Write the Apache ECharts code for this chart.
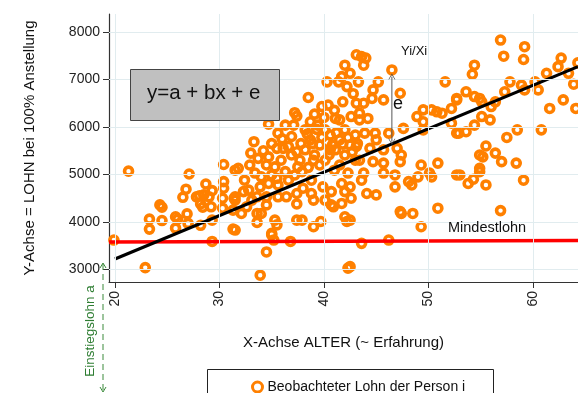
<!DOCTYPE html>
<html>
<head>
<meta charset="utf-8">
<script src="https://cdn.jsdelivr.net/npm/echarts@6/dist/echarts.min.js"></script>
<style>
  html, body { margin: 0; padding: 0; background: #fff; }
  #chart { width: 578px; height: 393px; }
</style>
</head>
<body>
<div id="chart"></div>
<script>
  // Achsen
  var xTicks = [20, 30, 40, 50, 60];
  var yTicks = [3000, 4000, 5000, 6000, 7000, 8000];
  var xRange = [19.43, 64.31];
  var yRange = [2737, 8378];

  // Regressionsgerade y = a + bx und Mindestlohn (Endpunkte)
  var regression = [[20, 3220], [64.31, 7270]];
  var mindestlohn = [[19.43, 3580], [64.31, 3610]];
  // Residuum e fuer einen Punkt Yi/Xi
  var residuum = [[46.5, 7060], [46.5, 5690]];

  // beobachtete Werte [ALTER, LOHN]
  var beobachtungen = [
    [21.3,5070],[19.9,3620],[22.9,3040],[23.3,4060],[23.3,3850],[24.5,4030],[24.3,4360],[24.5,4310],
    [25.8,4110],[25.8,3870],[26,4060],[26.5,4520],[26.8,4690],[27.1,5010],[26.9,4170],[27,3970],
    [28.2,3930],[28.1,4550],[28.2,4380],[28.7,4800],[28.5,4570],[29,4530],[29.2,4320],[29.3,4660],
    [29.3,4040],[29.3,3590],[28.4,4310],[27.8,4530],[30.4,5210],[30.4,4850],[30.4,4710],[30.3,4500],
    [30.3,4290],[31.3,3850],[31.5,5090],[31.4,4500],[31.3,4250],
    [40.3,6950],[38.5,6620],[37.2,6300],[37.4,6230],[39.1,6270],[38.7,6110],[38.2,5940],[39.8,6430],
    [40.4,6460],[42,7300],[41.7,7060],[42.2,6850],[41.4,6950],[41.8,6530],[41.1,6180],[41.5,6150],
    [34.7,6060],[35.6,5870],[36.3,6040],[37.1,6040],[33.3,5690],[35.5,5550],[36.1,5550],[36.6,5590],
    [36.9,5410],[34.7,5370],[33.7,5340],[32.9,5200],[31.8,5130],[34.5,5200],[35.3,5160],[37.5,5160],
    [37.9,5060],[33.4,5030],[34,4950],[35,4990],[35.5,4920],[32.4,4880],[32.8,4670],[33.9,4740],
    [34.7,4810],[35.6,4780],[36.6,4880],[37.2,4990],[38.8,4880],[38.8,4600],[39.9,4740],[40.7,4640],
    [41.7,4810],[42.3,5030],[42,4640],[38,4710],[40.1,4460],[39,4460],[40.9,4320],[41.7,4390],
    [37.4,4380],[34.5,4360],[32.1,4180],[33.6,3990],[35.3,4040],[35.5,3940],[37.9,4040],[39,3900],
    [39.7,4010],[42,4110],[42.2,4010],[35,3760],[35.2,3620],[36.8,3590],[34.5,3370],[33.9,2880],
    [42.3,3030],[31.5,3830],[35,3730],[37.4,4040],[40.7,4360],
    [31.5,4530],[31.5,4460],[32.3,4640],[33.1,4460],[33.6,4530],[32.6,4320],[34,4180],[33.6,4180],
    [34.5,4530],[35.6,4530],[36.4,4530],[37.4,4600],[36.3,5060],[35.9,5300],
    [40.1,5940],[40.6,5830],[41.5,5730],[39.6,5620],[41.1,5520],[42,5410],[42.5,5620],[38.7,5730],
    [39.1,5410],[40.1,5300],[41.5,5200],[43,5300],[40.6,5520],[38.2,5520],[37.7,5300],[39.4,6040],
    [42,5940],[43,5830],[43.4,6150],
    [38.4,5850],[38.9,5650],[39.3,5950],[39.8,5780],[40.3,5680],[40.8,5620],[41.2,5880],[41.8,5640],
    [42.3,5780],[39,5300],[39.6,5200],[40.5,5420],[41,5090],[42.7,5480],[43.2,5650],[37.8,5650],
    [36.9,5800],[37.4,5480],[38.5,5150],[40,6200],[41,6350],[42.8,6700],[36,5750],[35,5650],
    [34.2,5500],[33,5450],
    [46.5,7200],[43.6,7480],[43.1,7520],[44,7450],[43.8,7300],[42.5,7130],[43.3,6950],[45.2,6950],
    [44.7,6780],[44.6,6600],[45.7,6570],[47.3,6710],[51.6,6950],[43.1,6500],[43.8,6500],[43.4,6290],
    [44.2,6180],[42.6,6220],[48.9,6220],[49.5,6360],[50.3,6360],[50.8,6320],[51.3,6290],[52.2,6390],
    [52.7,6600],[49.5,6110],[52.7,5870],[47.6,5970],[49.5,5940],[43.9,5870],[44.9,5870],[45,5730],
    [46.2,5870],[43.1,5590],[44.4,5550],[45.7,5520],[47,5550],[47.4,5410],[47.3,5270],[45.7,5240],
    [44.7,5270],[43.4,5300],[49.3,5200],[50.9,5240],[52.7,4990],[45.7,5030],[46.8,4990],[43.8,5030],
    [43.6,4880],[48.1,4850],[48.4,4780],[49,4950],[50.1,5030],[50.3,4950],[46.8,4740],[42.5,4740],
    [44.1,4600],[45,4570],[42.6,4500],[47.3,4220],[47.4,4180],[48.5,4180],[50.9,4290],[49.3,3900],
    [43.6,3550],[46.2,3620],[42.5,3060],[42.5,4040],
    [56.9,7830],[57.2,7490],[59.2,7690],[59.1,7420],[54.4,7300],[54.2,7110],[62.7,7450],[62.4,7270],
    [64.3,7350],[61.3,7130],[63.4,7130],[63.9,6900],[60.2,6950],[60.5,6780],[58.9,6880],[59.2,6780],
    [57.8,6950],[57.3,6740],[53.6,6740],[52.7,6570],[54.4,6640],[54.9,6600],[55.1,6530],[56.4,6530],
    [56,6430],[55.1,6220],[55.9,6150],[54.4,6040],[53.6,5900],[52.9,5870],[52.2,6080],[61.6,6390],
    [62.9,6570],[64.1,6390],[58.5,5940],[60.8,5940],[57.5,5780],[55.5,5600],[54.9,5410],[55.2,5370],
    [56.4,5450],[57,5270],[58.4,5240],[54.9,5130],[54.9,5060],[53,4990],[53.8,4810],[54.3,4900],
    [55.5,4780],[59.1,4880],[56.9,4240]
  ];

  var orange = '#ff8000';
  var font = 'Liberation Sans, Arial, sans-serif';

  var myChart = echarts.init(document.getElementById('chart'));
  var option = {
    animation: false,
    textStyle: { fontFamily: font },
    grid: { left: 109, right: 0, top: 14, bottom: 111, containLabel: false },
    legend: {
      left: 246, top: 375,
      itemWidth: 10, itemHeight: 10,
      textStyle: { fontSize: 14, color: '#111', fontFamily: font },
      data: [{
        name: 'Beobachteter Lohn der Person i',
        icon: 'circle',
        itemStyle: { color: '#fff', borderColor: orange, borderWidth: 3 }
      }]
    },
    xAxis: {
      type: 'value',
      min: xRange[0], max: xRange[1],
      name: 'X-Achse ALTER (~ Erfahrung)',
      nameLocation: 'middle', nameGap: 53,
      nameTextStyle: { fontSize: 15, color: '#111' },
      axisLine: { show: true, lineStyle: { color: '#333', width: 1.2 } },
      axisTick: { show: true, length: 6, customValues: xTicks, lineStyle: { color: '#333' } },
      axisLabel: { customValues: xTicks, rotate: 90, fontSize: 14, color: '#222', margin: 9,
        formatter: function (v) { return String(v); } },
      splitLine: { show: false }
    },
    yAxis: {
      type: 'value',
      min: yRange[0], max: yRange[1],
      name: 'Y-Achse = LOHN bei 100% Anstellung',
      nameLocation: 'middle', nameGap: 72,
      nameTextStyle: { fontSize: 15, color: '#111' },
      axisLine: { show: true, lineStyle: { color: '#333', width: 1.2 } },
      axisTick: { show: true, length: 6, customValues: yTicks, lineStyle: { color: '#333' } },
      axisLabel: { customValues: yTicks, fontSize: 14, color: '#222', margin: 9,
        formatter: function (v) { return String(v); } },
      splitLine: { show: false }
    },
    series: [
      {
        // Gitterlinien an den Ticks
        type: 'line', data: [], silent: true,
        markLine: {
          silent: true, symbol: 'none', label: { show: false },
          lineStyle: { color: '#e1ecef', width: 1, type: 'solid' },
          data: xTicks.map(function (v) { return { xAxis: v }; })
            .concat(yTicks.map(function (v) { return { yAxis: v }; }))
        },
        z: 0
      },
      {
        name: 'Beobachteter Lohn der Person i',
        type: 'scatter',
        symbol: 'circle',
        symbolSize: 8,
        itemStyle: { color: 'rgba(255,255,255,0)', borderColor: orange, borderWidth: 3.6, opacity: 1 },
        data: beobachtungen,
        z: 2
      },
      {
        type: 'line', data: mindestlohn, symbol: 'none', silent: true,
        lineStyle: { color: '#ff0000', width: 3.5 }, z: 3
      },
      {
        type: 'line', data: regression, symbol: 'none', silent: true,
        lineStyle: { color: '#000', width: 3.2 }, z: 4
      },
      {
        type: 'line', silent: true,
        data: [
          { value: residuum[0], symbolRotate: 0 },
          { value: residuum[1], symbolRotate: 180 }
        ],
        symbol: 'path://M0,10 L5,0 L10,10 L9,10 L5,2 L1,10 Z',
        symbolSize: [7, 6],
        lineStyle: { color: '#555', width: 1 },
        itemStyle: { color: '#444' },
        z: 5
      }
    ],
    graphic: [
      {
        type: 'rect', left: 130, top: 69, z: 10,
        shape: { width: 149, height: 51 },
        style: { fill: '#c0c0c0', stroke: '#444', lineWidth: 1 }
      },
      {
        type: 'text', left: 147, top: 83, z: 11,
        style: { text: 'y=a + bx + e', fontSize: 20.5, fill: '#111', fontFamily: font }
      },
      {
        type: 'text', left: 401, top: 45, z: 11,
        style: { text: 'Yi/Xi', fontSize: 13, fill: '#111', fontFamily: font }
      },
      {
        type: 'text', left: 393, top: 95, z: 11,
        style: { text: 'e', fontSize: 18, fill: '#111', fontFamily: font }
      },
      {
        type: 'text', left: 448, top: 220, z: 11,
        style: { text: 'Mindestlohn', fontSize: 14.5, fill: '#111', fontFamily: font }
      },
      {
        type: 'polyline', z: 11,
        shape: { points: [[103, 264], [103, 392]] },
        style: { stroke: '#3a8a3a', lineWidth: 1, lineDash: [6, 4] }
      },
      {
        type: 'polyline', z: 11,
        shape: { points: [[100, 268], [103, 263], [106, 268]] },
        style: { stroke: '#3a8a3a', lineWidth: 1, fill: null }
      },
      {
        type: 'polyline', z: 11,
        shape: { points: [[100, 387], [103, 392], [106, 387]] },
        style: { stroke: '#3a8a3a', lineWidth: 1, fill: null }
      },
      {
        type: 'text', z: 11, x: 90, y: 331, rotation: Math.PI / 2,
        style: {
          text: 'Einstiegslohn a', fontSize: 13.5, fill: '#2e7d32', fontFamily: font,
          align: 'center', verticalAlign: 'middle'
        }
      },
      {
        type: 'rect', left: 207, top: 369, z: 1,
        shape: { width: 286, height: 40 },
        style: { fill: '#fff', stroke: '#222', lineWidth: 1 }
      }
    ]
  };
  myChart.setOption(option);
</script>
</body>
</html>
